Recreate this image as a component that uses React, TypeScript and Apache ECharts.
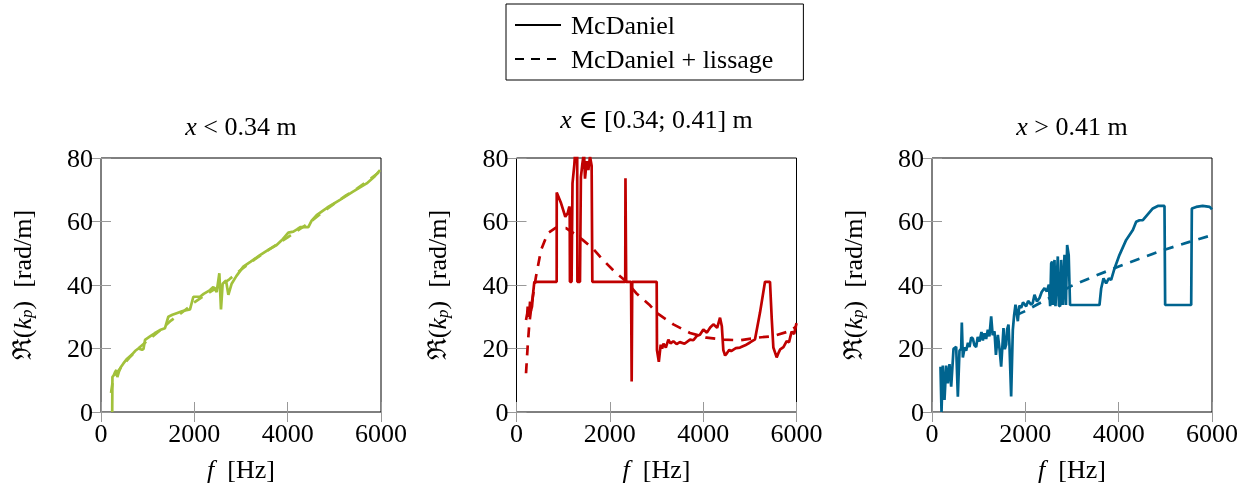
import React, { useEffect, useRef } from "react";
import * as echarts from "echarts";

// ---- data (frequency [Hz], Re(k_p) [rad/m]) ----
const xTicks = [0, 2000, 4000, 6000];
const yTicks = [0, 20, 40, 60, 80];

const panelTitles = ["{i|x} < 0.34 m", "{i|x} ∈ [0.34; 0.41] m", "{i|x} > 0.41 m"];
const legendNames = ["McDaniel", "McDaniel + lissage"];

const greenSolid: number[][] = [
  [240, 0], [245, 11], [270, 11.5], [300, 12.5], [330, 13.2], [350, 11], [380, 12.5], [420, 14],
  [480, 15.3], [560, 16.8], [657, 18], [730, 19.2], [800, 20], [880, 19.6], [910, 19.8], [943, 22.7],
  [1050, 23.8], [1150, 24.8], [1264, 25.8], [1371, 26.4], [1443, 30], [1530, 30.6], [1621, 31.1],
  [1750, 31.8], [1907, 32.3], [1979, 36.3], [2121, 36.3], [2200, 37.2], [2336, 38.4], [2407, 39.4],
  [2479, 37.8], [2536, 43.7], [2571, 32.3], [2607, 40.4], [2679, 41.4], [2729, 36.9], [2800, 40.4],
  [2900, 42.8], [3050, 45.8], [3200, 47.3], [3407, 49.4], [3600, 51.2], [3764, 52.6], [3900, 54.5],
  [4014, 56.5], [4121, 56.8], [4200, 57.5], [4264, 58.2], [4443, 58.2], [4514, 60.3], [4621, 62],
  [4850, 64.4], [5121, 66.8], [5400, 69.4], [5693, 72], [5850, 74], [5979, 76.2],
];
const greenSmooth: number[][] = [
  [215, 6], [250, 9.5], [300, 11.5], [400, 13.5], [600, 17], [800, 20], [1000, 22.5], [1250, 25.5],
  [1500, 28.8], [1750, 31.5], [2000, 34.5], [2250, 37], [2500, 39.3], [2750, 41.8], [3000, 44.8],
  [3250, 47.6], [3500, 50.2], [3750, 52.6], [4000, 55], [4250, 57.5], [4500, 60], [4750, 63],
  [5000, 65.6], [5250, 68.2], [5500, 70.5], [5750, 73.2], [6000, 76],
];

const redSolid: number[][] = [
  [204, 29], [230, 31], [240, 33.2], [260, 30], [275, 31.1], [290, 34.8], [310, 32], [332, 33.2],
  [360, 38], [382, 41], [861, 41], [862, 69.1], [954, 65.8], [1046, 61.5], [1096, 62.6], [1132, 64.7],
  [1140, 64], [1145, 41], [1180, 41], [1200, 72], [1240, 78], [1270, 85], [1300, 85], [1305, 41],
  [1360, 41], [1380, 74], [1410, 78], [1446, 82], [1468, 73.5], [1504, 79], [1540, 76.2], [1575, 80.5],
  [1610, 77.6], [1625, 41], [2330, 41], [2335, 73.6], [2345, 73.6], [2350, 41], [2455, 41], [2468, 9.6],
  [2480, 41], [3004, 41], [3010, 19.5], [3050, 15.8], [3090, 21.2], [3120, 20], [3150, 21.5], [3200, 20.3],
  [3254, 22.8], [3300, 21.6], [3361, 22.3], [3430, 21.4], [3500, 22], [3600, 21.5], [3718, 22.8],
  [3790, 22.6], [3861, 23.9], [3930, 24.3], [4004, 26], [4080, 25], [4150, 26.6], [4218, 27.6], [4300, 26.5],
  [4361, 29.7], [4400, 27], [4432, 19.5], [4470, 17.8], [4504, 18.4], [4560, 19.6], [4600, 19.2],
  [4700, 20.1], [4789, 20.3], [4900, 21], [5004, 21.9], [5111, 22.9], [5218, 31.3], [5325, 41],
  [5432, 41], [5470, 29.2], [5504, 20.3], [5575, 17.2], [5620, 18.8], [5650, 19.7], [5720, 20.4],
  [5789, 22.3], [5840, 22], [5896, 25.3], [5950, 24.6], [6000, 28],
];
const redSmooth: number[][] = [
  [204, 12.2], [239, 20.6], [275, 27.9], [332, 34.8], [418, 42.7], [525, 51], [668, 56.3], [846, 58.1],
  [1061, 57.9], [1275, 55.8], [1418, 54.2], [1632, 51.6], [1846, 48], [2132, 43.8], [2346, 41.2],
  [2561, 37.5], [2846, 33.8], [3004, 31.2], [3361, 27.6], [3718, 24.9], [4075, 23.4], [4432, 22.8],
  [4789, 22.6], [5147, 23.4], [5504, 23.9], [5861, 25.5], [6000, 27],
];

const blueSolid: number[][] = [
  [182, 14.3], [204, 0], [232, 14.6], [268, 3.8], [304, 14.6], [339, 9], [375, 15.1], [411, 8],
  [446, 16.2], [461, 19.9], [518, 20.5], [554, 4.8], [589, 19.3], [625, 20], [639, 28.2], [661, 17.2],
  [700, 20.4], [732, 19.3], [770, 21.8], [804, 20.5], [840, 23.5], [875, 23.1], [910, 21], [946, 20.5],
  [980, 23.6], [1018, 22.2], [1060, 25.2], [1090, 22.5], [1125, 24.8], [1160, 23], [1196, 25.9],
  [1230, 23.8], [1268, 30.1], [1300, 24.2], [1339, 25.4], [1370, 18], [1411, 24.3], [1450, 19.5],
  [1482, 14.3], [1532, 26.4], [1560, 19.8], [1589, 21.2], [1610, 26], [1639, 27.5], [1660, 21],
  [1696, 4.9], [1732, 25.9], [1760, 30.5], [1789, 33.8], [1839, 28.6], [1870, 33.5], [1911, 32.8],
  [1950, 34.5], [2018, 33.3], [2060, 35], [2125, 33.8], [2160, 34.4], [2196, 36.9], [2250, 34.8],
  [2304, 35.9], [2350, 37.8], [2411, 39], [2460, 38], [2504, 40.1], [2532, 33.3], [2554, 46.8],
  [2575, 47.4], [2589, 33.7], [2625, 47.9], [2646, 33.3], [2696, 49], [2720, 33.5], [2746, 33.3],
  [2768, 47.9], [2804, 33.7], [2839, 49.5], [2870, 33.7], [2896, 52.6], [2929, 49.5], [2958, 33.7],
  [3589, 33.7], [3625, 38.9], [3675, 42.1], [3732, 40.5], [3789, 42.1], [3839, 41.6], [3911, 45.2],
  [4018, 49.5], [4161, 54.2], [4304, 57.3], [4375, 59.9], [4446, 60.4], [4518, 60.4], [4732, 64.1],
  [4839, 64.9], [4982, 64.9], [4996, 33.7], [5554, 33.7], [5568, 64.1], [5661, 64.6], [5800, 64.9],
  [5950, 64.6], [6000, 63.8],
];
const blueSmooth: number[][] = [
  [1800, 30.5], [2000, 31.8], [2500, 35.8], [3000, 39.8], [3500, 42.9], [4000, 45.8], [4500, 48.6],
  [5000, 51.2], [5500, 53.5], [6000, 55.7],
];

const panelColors = ["#a2c13b", "#c00000", "#00648f"];
const panelSolid = [greenSolid, redSolid, blueSolid];
const panelSmooth = [greenSmooth, redSmooth, blueSmooth];

const FONT = "'Liberation Serif', 'DejaVu Serif', serif";
const GRID_LEFT = [101, 516.5, 932];
const GRID_TOP = 158;
const GRID_W = 280;
const GRID_H = 254;

const rich = {
  r: { fontFamily: FONT, fontSize: 26, color: "#000" },
  i: { fontFamily: FONT, fontSize: 26, fontStyle: "italic", color: "#000" },
  s: { fontFamily: FONT, fontSize: 17, fontStyle: "italic", color: "#000", verticalAlign: "bottom", lineHeight: 17 },
};

export default function App() {
  const ref = useRef<HTMLDivElement>(null);
  useEffect(() => {
    if (!ref.current) return;
    const chart = echarts.init(ref.current, null, { renderer: "svg" });
    const grid: any[] = [];
    const xAxis: any[] = [];
    const yAxis: any[] = [];
    const series: any[] = [];
    const tick = { show: true, inside: true, length: 10, lineStyle: { color: "#999", width: 1 } };
    const plain = (v: number) => String(v);
    for (let i = 0; i < 3; i++) {
      grid.push({
        left: GRID_LEFT[i], top: GRID_TOP, width: GRID_W, height: GRID_H,
        show: true, borderColor: "#000", borderWidth: 1, backgroundColor: "transparent",
      });
      const xBase = { type: "value", gridIndex: i, min: xTicks[0], max: xTicks[xTicks.length - 1], interval: 2000, splitLine: { show: false }, axisLine: { show: false } };
      xAxis.push({
        ...xBase, position: "bottom", axisTick: tick,
        axisLabel: { fontFamily: FONT, fontSize: 26, color: "#000", margin: 8, formatter: plain },
        name: "{i|f}  {r|[Hz]}", nameLocation: "middle", nameGap: 44,
        nameTextStyle: { fontFamily: FONT, fontSize: 26, color: "#000", rich },
      });
      xAxis.push({ ...xBase, position: "top", axisTick: tick, axisLabel: { show: false } });
      const yBase = { type: "value", gridIndex: i, min: yTicks[0], max: yTicks[yTicks.length - 1], interval: 20, splitLine: { show: false }, axisLine: { show: false } };
      yAxis.push({
        ...yBase, position: "left", axisTick: tick,
        axisLabel: { fontFamily: FONT, fontSize: 26, color: "#000", margin: 8, formatter: plain },
        name: "{r|ℜ(}{i|k}{s|p}{r|)  [rad/m]}", nameLocation: "middle", nameGap: 66,
        nameTextStyle: { fontFamily: FONT, fontSize: 26, color: "#000", rich },
      });
      yAxis.push({ ...yBase, position: "right", axisTick: tick, axisLabel: { show: false } });
      series.push({
        type: "line", xAxisIndex: 2 * i, yAxisIndex: 2 * i, data: panelSmooth[i], symbol: "none",
        lineStyle: { color: panelColors[i], width: 2.7, type: [10, 8] }, z: 3, silent: true,
      });
      series.push({
        type: "line", xAxisIndex: 2 * i, yAxisIndex: 2 * i, data: panelSolid[i], symbol: "none",
        lineStyle: { color: panelColors[i], width: 2.7, type: "solid" }, z: 4, silent: true,
      });
    }
    series.push({ name: legendNames[0], type: "line", xAxisIndex: 0, yAxisIndex: 0, data: [], symbol: "none", itemStyle: { color: "#000" }, lineStyle: { color: "#000", width: 2.5, type: "solid" } });
    series.push({ name: legendNames[1], type: "line", xAxisIndex: 0, yAxisIndex: 0, data: [], symbol: "none", itemStyle: { color: "#000" }, lineStyle: { color: "#000", width: 2.5, type: [9, 7] } });

    const titleX = GRID_LEFT.map((l) => l + GRID_W / 2);
    const titleY = [126, 119, 126];
    const graphic = panelTitles.map((t, i) => ({
      type: "text", x: titleX[i], y: titleY[i],
      style: {
        text: t, rich, fontFamily: FONT, fontSize: 26, fill: "#000",
        align: "center", textAlign: "center", verticalAlign: "middle", textVerticalAlign: "middle",
      },
    }));

    chart.setOption({
      animation: false,
      grid, xAxis, yAxis, series, graphic,
      legend: {
        data: legendNames, orient: "vertical", left: 506, top: 4,
        padding: [5, 30, 5, 8], itemGap: 2, itemWidth: 46, itemHeight: 20,
        borderColor: "#000", borderWidth: 1, borderRadius: 0,
        selectedMode: false,
        itemStyle: { color: "transparent", borderColor: "transparent", borderWidth: 0, opacity: 0 },
        textStyle: { fontFamily: FONT, fontSize: 26, color: "#000", lineHeight: 32, padding: [0, 0, 0, 5] },
      },
    });
    return () => chart.dispose();
  }, []);
  return <div ref={ref} style={{ position: "fixed", left: 0, top: 0, width: 1254, height: 492 }} />;
}
